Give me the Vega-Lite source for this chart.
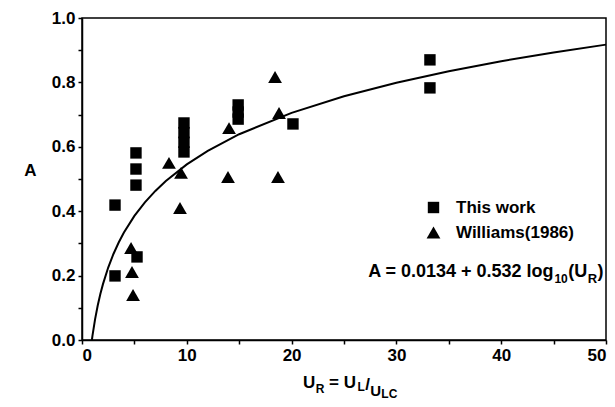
{
  "$schema": "https://vega.github.io/schema/vega-lite/v6.json",
  "width": 524,
  "height": 322,
  "autosize": {"type": "none"},
  "padding": {"left": 82, "top": 18, "right": 9, "bottom": 67},
  "background": "white",
  "config": {
    "font": "Liberation Sans",
    "view": {"stroke": "black", "strokeWidth": 1.5},
    "axis": {
      "domainColor": "black", "domainWidth": 1.5,
      "tickColor": "black", "tickWidth": 1.5, "tickSize": 4,
      "labelFont": "Liberation Sans", "labelFontSize": 17, "labelFontWeight": "bold", "labelColor": "black",
      "labelPadding": 3, "grid": false,
      "titleFont": "Liberation Sans", "titleFontSize": 17, "titleFontWeight": "bold", "titleColor": "black"
    },
    "legend": {
      "labelFont": "Liberation Sans", "labelFontSize": 17, "labelFontWeight": "bold", "labelColor": "black"
    }
  },
  "datasets": {
    "curve": [
      {"U": 0.944, "A": 0.0},
      {"U": 1.0, "A": 0.0134},
      {"U": 1.25, "A": 0.0650},
      {"U": 1.5, "A": 0.1071},
      {"U": 1.75, "A": 0.1427},
      {"U": 2.0, "A": 0.1735},
      {"U": 2.5, "A": 0.2251},
      {"U": 3.0, "A": 0.2672},
      {"U": 3.5, "A": 0.3028},
      {"U": 4.0, "A": 0.3337},
      {"U": 5.0, "A": 0.3853},
      {"U": 6.0, "A": 0.4274},
      {"U": 7.0, "A": 0.4630},
      {"U": 8.0, "A": 0.4938},
      {"U": 10.0, "A": 0.5454},
      {"U": 12.0, "A": 0.5875},
      {"U": 15.0, "A": 0.6391},
      {"U": 20.0, "A": 0.7055},
      {"U": 25.0, "A": 0.7571},
      {"U": 30.0, "A": 0.7992},
      {"U": 35.0, "A": 0.8348},
      {"U": 40.0, "A": 0.8657},
      {"U": 45.0, "A": 0.8929},
      {"U": 50.0, "A": 0.9173}
    ],
    "points": [
      {"U": 3.15, "A": 0.419, "series": "This work"},
      {"U": 3.15, "A": 0.199, "series": "This work"},
      {"U": 5.25, "A": 0.258, "series": "This work"},
      {"U": 5.15, "A": 0.581, "series": "This work"},
      {"U": 5.15, "A": 0.531, "series": "This work"},
      {"U": 5.15, "A": 0.481, "series": "This work"},
      {"U": 9.73, "A": 0.674, "series": "This work"},
      {"U": 9.73, "A": 0.644, "series": "This work"},
      {"U": 9.73, "A": 0.614, "series": "This work"},
      {"U": 9.73, "A": 0.584, "series": "This work"},
      {"U": 14.9, "A": 0.730, "series": "This work"},
      {"U": 14.9, "A": 0.708, "series": "This work"},
      {"U": 14.9, "A": 0.686, "series": "This work"},
      {"U": 20.13, "A": 0.671, "series": "This work"},
      {"U": 33.2, "A": 0.870, "series": "This work"},
      {"U": 33.2, "A": 0.783, "series": "This work"},
      {"U": 8.3, "A": 0.550, "series": "Williams(1986)"},
      {"U": 9.45, "A": 0.519, "series": "Williams(1986)"},
      {"U": 9.35, "A": 0.410, "series": "Williams(1986)"},
      {"U": 13.93, "A": 0.506, "series": "Williams(1986)"},
      {"U": 14.03, "A": 0.658, "series": "Williams(1986)"},
      {"U": 18.42, "A": 0.817, "series": "Williams(1986)"},
      {"U": 18.8, "A": 0.705, "series": "Williams(1986)"},
      {"U": 18.7, "A": 0.506, "series": "Williams(1986)"},
      {"U": 4.68, "A": 0.286, "series": "Williams(1986)"},
      {"U": 4.77, "A": 0.211, "series": "Williams(1986)"},
      {"U": 4.87, "A": 0.140, "series": "Williams(1986)"}
    ]
  },
  "encoding": {
    "x": {
      "type": "quantitative",
      "scale": {"domain": [0, 50], "nice": false},
      "axis": {
        "title": null,
        "values": [0, 5, 10, 15, 20, 25, 30, 35, 40, 45, 50],
        "labelExpr": "datum.value % 10 === 0 ? datum.label : ''"
      }
    },
    "y": {
      "type": "quantitative",
      "scale": {"domain": [0, 1], "nice": false},
      "axis": {
        "title": "A",
        "titleAngle": 0,
        "titleX": -52,
        "titleY": 152,
        "titleAlign": "center",
        "titleBaseline": "middle",
        "values": [0, 0.1, 0.2, 0.3, 0.4, 0.5, 0.6, 0.7, 0.8, 0.9, 1.0],
        "format": ".1f",
        "labelExpr": "round(datum.value * 10) % 2 === 0 ? datum.label : ''"
      }
    }
  },
  "layer": [
    {
      "data": {"name": "curve"},
      "mark": {"type": "line", "color": "black", "strokeWidth": 2},
      "encoding": {
        "x": {"field": "U", "type": "quantitative"},
        "y": {"field": "A", "type": "quantitative"}
      }
    },
    {
      "data": {"name": "points"},
      "mark": {"type": "point", "filled": true, "opacity": 1, "color": "black"},
      "encoding": {
        "x": {"field": "U", "type": "quantitative"},
        "y": {"field": "A", "type": "quantitative"},
        "shape": {
          "field": "series", "type": "nominal",
          "scale": {"domain": ["This work", "Williams(1986)"], "range": ["square", "triangle-up"]},
          "legend": {
            "title": null, "orient": "none", "legendX": 343, "legendY": 181,
            "padding": 0, "rowPadding": 7, "labelOffset": 14, "symbolStrokeWidth": 0,
            "symbolFillColor": "black"
          }
        },
        "size": {
          "field": "series", "type": "nominal",
          "scale": {"domain": ["This work", "Williams(1986)"], "range": [130, 190]},
          "legend": {
            "title": null, "orient": "none", "legendX": 343, "legendY": 181,
            "padding": 0, "rowPadding": 7, "labelOffset": 14, "symbolStrokeWidth": 0,
            "symbolFillColor": "black"
          }
        }
      }
    },
    {
      "data": {"values": [{}]},
      "mark": {"type": "text", "align": "right", "baseline": "alphabetic", "fontSize": 18, "fontWeight": "bold", "color": "black", "text": "A = 0.0134 + 0.532 log"},
      "encoding": {"x": {"datum": 45.0}, "y": {"datum": 0.196}}
    },
    {
      "data": {"values": [{}]},
      "mark": {"type": "text", "align": "left", "baseline": "alphabetic", "fontSize": 12, "fontWeight": "bold", "color": "black", "text": "10"},
      "encoding": {"x": {"datum": 45.08}, "y": {"datum": 0.178}}
    },
    {
      "data": {"values": [{}]},
      "mark": {"type": "text", "align": "left", "baseline": "alphabetic", "fontSize": 18, "fontWeight": "bold", "color": "black", "text": "(U"},
      "encoding": {"x": {"datum": 46.4}, "y": {"datum": 0.196}}
    },
    {
      "data": {"values": [{}]},
      "mark": {"type": "text", "align": "left", "baseline": "alphabetic", "fontSize": 13, "fontWeight": "bold", "color": "black", "text": "R"},
      "encoding": {"x": {"datum": 48.25}, "y": {"datum": 0.178}}
    },
    {
      "data": {"values": [{}]},
      "mark": {"type": "text", "align": "left", "baseline": "alphabetic", "fontSize": 18, "fontWeight": "bold", "color": "black", "text": ")"},
      "encoding": {"x": {"datum": 49.2}, "y": {"datum": 0.196}}
    },
    {
      "data": {"values": [{}]},
      "mark": {"type": "text", "align": "left", "baseline": "alphabetic", "fontSize": 17, "fontWeight": "bold", "color": "black", "text": "U"},
      "encoding": {"x": {"datum": 21.09}, "y": {"datum": -0.149}}
    },
    {
      "data": {"values": [{}]},
      "mark": {"type": "text", "align": "left", "baseline": "alphabetic", "fontSize": 12, "fontWeight": "bold", "color": "black", "text": "R"},
      "encoding": {"x": {"datum": 22.3}, "y": {"datum": -0.165}}
    },
    {
      "data": {"values": [{}]},
      "mark": {"type": "text", "align": "left", "baseline": "alphabetic", "fontSize": 17, "fontWeight": "bold", "color": "black", "text": "= U"},
      "encoding": {"x": {"datum": 23.57}, "y": {"datum": -0.149}}
    },
    {
      "data": {"values": [{}]},
      "mark": {"type": "text", "align": "left", "baseline": "alphabetic", "fontSize": 12, "fontWeight": "bold", "color": "black", "text": "L"},
      "encoding": {"x": {"datum": 26.3}, "y": {"datum": -0.158}}
    },
    {
      "data": {"values": [{}]},
      "mark": {"type": "text", "align": "left", "baseline": "alphabetic", "fontSize": 17, "fontWeight": "bold", "color": "black", "text": "/"},
      "encoding": {"x": {"datum": 27.02}, "y": {"datum": -0.155}}
    },
    {
      "data": {"values": [{}]},
      "mark": {"type": "text", "align": "left", "baseline": "alphabetic", "fontSize": 15, "fontWeight": "bold", "color": "black", "text": "U"},
      "encoding": {"x": {"datum": 27.5}, "y": {"datum": -0.174}}
    },
    {
      "data": {"values": [{}]},
      "mark": {"type": "text", "align": "left", "baseline": "alphabetic", "fontSize": 12, "fontWeight": "bold", "color": "black", "text": "LC"},
      "encoding": {"x": {"datum": 28.56}, "y": {"datum": -0.180}}
    }
  ]
}
